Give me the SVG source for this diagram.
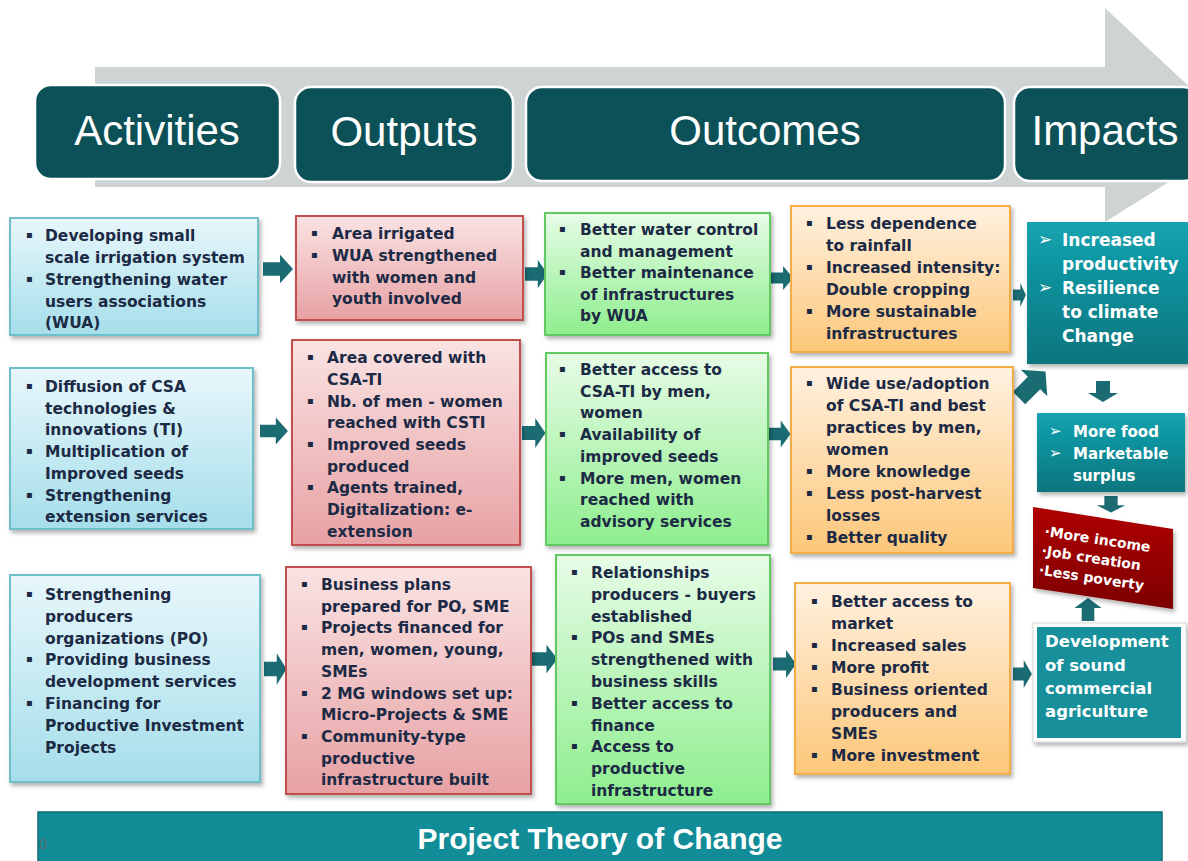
<svg xmlns="http://www.w3.org/2000/svg" xmlns:xlink="http://www.w3.org/1999/xlink" width="1188" height="861" viewBox="0 0 1188 861">
<defs>
<linearGradient id="gBlue" x1="0" y1="0" x2="0" y2="1"><stop offset="0" stop-color="#e8f7fb"/><stop offset="1" stop-color="#a5deea"/></linearGradient>
<linearGradient id="gPink" x1="0" y1="0" x2="0" y2="1"><stop offset="0" stop-color="#fae3e3"/><stop offset="1" stop-color="#e7a1a4"/></linearGradient>
<linearGradient id="gGreen" x1="0" y1="0" x2="0" y2="1"><stop offset="0" stop-color="#e7fce7"/><stop offset="1" stop-color="#8eee8e"/></linearGradient>
<linearGradient id="gOrange" x1="0" y1="0" x2="0" y2="1"><stop offset="0" stop-color="#fff1e0"/><stop offset="1" stop-color="#fcc779"/></linearGradient>
<linearGradient id="gTeal" x1="0" y1="0" x2="0" y2="1"><stop offset="0" stop-color="#13a3b0"/><stop offset="1" stop-color="#0b757e"/></linearGradient>
<linearGradient id="gRed" x1="0" y1="0" x2="0" y2="1"><stop offset="0" stop-color="#b00000"/><stop offset="1" stop-color="#7c0000"/></linearGradient>
<filter id="sh" x="-10%" y="-10%" width="125%" height="125%"><feDropShadow dx="2" dy="3" stdDeviation="2" flood-color="#000" flood-opacity="0.3"/></filter>
<path id="ra" d="M0,-7 H17 V-15 L30,0 L17,15 V7 H0 Z"/>
<style>
.hdr{fill:#0c5157;stroke:#fff;stroke-width:2.5}
.ht{font-family:"Liberation Sans",Arial,sans-serif;font-size:42px;fill:#fff;text-anchor:middle}
.t{font-family:"DejaVu Sans",Verdana,sans-serif;font-weight:bold;font-size:15.5px;fill:#1c2a45}
.b{font-family:"DejaVu Sans",sans-serif;font-size:10px;fill:#1c2a45}
.w{font-family:"DejaVu Sans",Verdana,sans-serif;font-weight:bold;fill:#fff}
.blue{fill:url(#gBlue);stroke:#6fc0cb;stroke-width:2}
.pink{fill:url(#gPink);stroke:#c0504d;stroke-width:2}
.green{fill:url(#gGreen);stroke:#62c862;stroke-width:2}
.orange{fill:url(#gOrange);stroke:#f2ad45;stroke-width:2}
.arr{fill:#1b6b72}
</style>
</defs>
<rect width="1188" height="861" fill="#fff"/>

<g id="timeline-arrow">
<path d="M95,67 H1105 V8 L1242,136 L1105,222 V187 H95 Z" fill="#ced3d3"/>
</g>

<g id="hdr-activities"><rect class="hdr" x="35" y="85" width="245" height="94" rx="16"/><text class="ht" x="157" y="145">Activities</text></g>
<g id="hdr-outputs"><rect class="hdr" x="295" y="87" width="218" height="95" rx="16"/><text class="ht" x="404" y="146">Outputs</text></g>
<g id="hdr-outcomes"><rect class="hdr" x="526" y="87" width="479" height="94" rx="16"/><text class="ht" x="765" y="145">Outcomes</text></g>
<g id="hdr-impacts"><rect class="hdr" x="1014" y="87" width="185" height="94" rx="16"/><text class="ht" x="1105" y="145">Impacts</text></g>

<g id="connectors" class="arr">
<use xlink:href="#ra" transform="translate(263,269) scale(1,0.95)"/>
<use xlink:href="#ra" transform="translate(260,431) scale(0.93,0.9)"/>
<use xlink:href="#ra" transform="translate(264,669) scale(0.75,1.05)"/>
<use xlink:href="#ra" transform="translate(525,274) scale(0.75,0.95)"/>
<use xlink:href="#ra" transform="translate(522,433) scale(0.78,1)"/>
<use xlink:href="#ra" transform="translate(532,659) scale(0.85,0.95)"/>
<use xlink:href="#ra" transform="translate(770,278) scale(0.77,0.8)"/>
<use xlink:href="#ra" transform="translate(768,434) scale(0.75,0.9)"/>
<use xlink:href="#ra" transform="translate(773,664) scale(0.77,0.93)"/>
<use xlink:href="#ra" transform="translate(1013,295) scale(0.43,0.8)"/>
<use xlink:href="#ra" transform="translate(1013,674) scale(0.63,0.93)"/>
<use xlink:href="#ra" transform="translate(1019,398) rotate(-45) scale(1.25)"/>
<use xlink:href="#ra" transform="translate(1103,381) rotate(90) scale(0.7,1)"/>
<use xlink:href="#ra" transform="translate(1111,496) rotate(90) scale(0.55,0.95)"/>
<use xlink:href="#ra" transform="translate(1088,621) rotate(-90) scale(0.77,0.9)"/>
</g>

<g id="act-1">
<rect class="blue" x="10" y="218" width="248" height="117" filter="url(#sh)"/>
<text class="b"><tspan x="26" y="238">▪</tspan><tspan x="26" y="282">▪</tspan></text>
<text class="t"><tspan x="45" y="241">Developing small</tspan><tspan x="45" y="263">scale irrigation system</tspan><tspan x="45" y="285">Strengthening water</tspan><tspan x="45" y="306.5">users associations</tspan><tspan x="45" y="328">(WUA)</tspan></text>
</g>
<g id="act-2">
<rect class="blue" x="10" y="368" width="243" height="161" filter="url(#sh)"/>
<text class="b"><tspan x="26" y="389">▪</tspan><tspan x="26" y="454">▪</tspan><tspan x="26" y="497.5">▪</tspan></text>
<text class="t"><tspan x="45" y="392">Diffusion of CSA</tspan><tspan x="45" y="413.5">technologies &amp;</tspan><tspan x="45" y="435">innovations (TI)</tspan><tspan x="45" y="457">Multiplication of</tspan><tspan x="45" y="479">Improved seeds</tspan><tspan x="45" y="500.5">Strengthening</tspan><tspan x="45" y="522">extension services</tspan></text>
</g>
<g id="act-3">
<rect class="blue" x="10" y="575" width="250" height="207" filter="url(#sh)"/>
<text class="b"><tspan x="26" y="597">▪</tspan><tspan x="26" y="662.4">▪</tspan><tspan x="26" y="706">▪</tspan></text>
<text class="t"><tspan x="45" y="600">Strengthening</tspan><tspan x="45" y="621.8">producers</tspan><tspan x="45" y="643.6">organizations (PO)</tspan><tspan x="45" y="665.4">Providing business</tspan><tspan x="45" y="687.2">development services</tspan><tspan x="45" y="709">Financing for</tspan><tspan x="45" y="730.8">Productive Investment</tspan><tspan x="45" y="752.6">Projects</tspan></text>
</g>

<g id="out-1">
<rect class="pink" x="296" y="216" width="227" height="104" filter="url(#sh)"/>
<text class="b"><tspan x="311" y="236">▪</tspan><tspan x="311" y="258">▪</tspan></text>
<text class="t"><tspan x="332" y="239">Area irrigated</tspan><tspan x="332" y="261">WUA strengthened</tspan><tspan x="332" y="282.5">with women and</tspan><tspan x="332" y="304">youth involved</tspan></text>
</g>
<g id="out-2">
<rect class="pink" x="292" y="340" width="228" height="205" filter="url(#sh)"/>
<text class="b"><tspan x="307" y="360">▪</tspan><tspan x="307" y="403.5">▪</tspan><tspan x="307" y="447">▪</tspan><tspan x="307" y="490">▪</tspan></text>
<text class="t"><tspan x="327" y="363">Area covered with</tspan><tspan x="327" y="385">CSA-TI</tspan><tspan x="327" y="406.5">Nb. of men - women</tspan><tspan x="327" y="428">reached with CSTI</tspan><tspan x="327" y="450">Improved seeds</tspan><tspan x="327" y="471.5">produced</tspan><tspan x="327" y="493">Agents trained,</tspan><tspan x="327" y="515">Digitalization: e-</tspan><tspan x="327" y="536.5">extension</tspan></text>
</g>
<g id="out-3">
<rect class="pink" x="286" y="567" width="245" height="227" filter="url(#sh)"/>
<text class="b"><tspan x="301" y="587">▪</tspan><tspan x="301" y="630.4">▪</tspan><tspan x="301" y="695.5">▪</tspan><tspan x="301" y="738.9">▪</tspan></text>
<text class="t"><tspan x="321" y="590">Business plans</tspan><tspan x="321" y="611.7">prepared for PO, SME</tspan><tspan x="321" y="633.4">Projects financed for</tspan><tspan x="321" y="655.1">men, women, young,</tspan><tspan x="321" y="676.8">SMEs</tspan><tspan x="321" y="698.5">2 MG windows set up:</tspan><tspan x="321" y="720.2">Micro-Projects &amp; SME</tspan><tspan x="321" y="741.9">Community-type</tspan><tspan x="321" y="763.6">productive</tspan><tspan x="321" y="785.3">infrastructure built</tspan></text>
</g>

<g id="outc-1">
<rect class="green" x="545" y="213" width="225" height="122" filter="url(#sh)"/>
<text class="b"><tspan x="559" y="232">▪</tspan><tspan x="559" y="275">▪</tspan></text>
<text class="t"><tspan x="580" y="235">Better water control</tspan><tspan x="580" y="256.5">and management</tspan><tspan x="580" y="278">Better maintenance</tspan><tspan x="580" y="299.5">of infrastructures</tspan><tspan x="580" y="321">by WUA</tspan></text>
</g>
<g id="outc-2">
<rect class="green" x="546" y="353" width="222" height="192" filter="url(#sh)"/>
<text class="b"><tspan x="559" y="372">▪</tspan><tspan x="559" y="437.1">▪</tspan><tspan x="559" y="480.5">▪</tspan></text>
<text class="t"><tspan x="580" y="375">Better access to</tspan><tspan x="580" y="396.7">CSA-TI by men,</tspan><tspan x="580" y="418.4">women</tspan><tspan x="580" y="440.1">Availability of</tspan><tspan x="580" y="461.8">improved seeds</tspan><tspan x="580" y="483.5">More men, women</tspan><tspan x="580" y="505.2">reached with</tspan><tspan x="580" y="526.9">advisory services</tspan></text>
</g>
<g id="outc-3">
<rect class="green" x="556" y="555" width="214" height="249" filter="url(#sh)"/>
<text class="b"><tspan x="571" y="575">▪</tspan><tspan x="571" y="640.4">▪</tspan><tspan x="571" y="705.8">▪</tspan><tspan x="571" y="749.4">▪</tspan></text>
<text class="t"><tspan x="591" y="578">Relationships</tspan><tspan x="591" y="599.8">producers - buyers</tspan><tspan x="591" y="621.6">established</tspan><tspan x="591" y="643.4">POs and SMEs</tspan><tspan x="591" y="665.2">strengthened with</tspan><tspan x="591" y="687">business skills</tspan><tspan x="591" y="708.8">Better access to</tspan><tspan x="591" y="730.6">finance</tspan><tspan x="591" y="752.4">Access to</tspan><tspan x="591" y="774.2">productive</tspan><tspan x="591" y="796">infrastructure</tspan></text>
</g>

<g id="res-1">
<rect class="orange" x="791" y="206" width="219" height="146" filter="url(#sh)"/>
<text class="b"><tspan x="806" y="225.5">▪</tspan><tspan x="806" y="269.5">▪</tspan><tspan x="806" y="313.5">▪</tspan></text>
<text class="t"><tspan x="826" y="228.5">Less dependence</tspan><tspan x="826" y="250.5">to rainfall</tspan><tspan x="826" y="272.5">Increased intensity:</tspan><tspan x="826" y="294.5">Double cropping</tspan><tspan x="826" y="316.5">More sustainable</tspan><tspan x="826" y="338.5">infrastructures</tspan></text>
</g>
<g id="res-2">
<rect class="orange" x="791" y="367" width="222" height="186" filter="url(#sh)"/>
<text class="b"><tspan x="806" y="386">▪</tspan><tspan x="806" y="474">▪</tspan><tspan x="806" y="496">▪</tspan><tspan x="806" y="540">▪</tspan></text>
<text class="t"><tspan x="826" y="389">Wide use/adoption</tspan><tspan x="826" y="411">of CSA-TI and best</tspan><tspan x="826" y="433">practices by men,</tspan><tspan x="826" y="455">women</tspan><tspan x="826" y="477">More knowledge</tspan><tspan x="826" y="499">Less post-harvest</tspan><tspan x="826" y="521">losses</tspan><tspan x="826" y="543">Better quality</tspan></text>
</g>
<g id="res-3">
<rect class="orange" x="795" y="583" width="215" height="191" filter="url(#sh)"/>
<text class="b"><tspan x="811" y="603.5">▪</tspan><tspan x="811" y="647.5">▪</tspan><tspan x="811" y="669.5">▪</tspan><tspan x="811" y="691.5">▪</tspan><tspan x="811" y="757.5">▪</tspan></text>
<text class="t"><tspan x="831" y="606.5">Better access to</tspan><tspan x="831" y="628.5">market</tspan><tspan x="831" y="650.5">Increased sales</tspan><tspan x="831" y="672.5">More profit</tspan><tspan x="831" y="694.5">Business oriented</tspan><tspan x="831" y="716.5">producers and</tspan><tspan x="831" y="738.5">SMEs</tspan><tspan x="831" y="760.5">More investment</tspan></text>
</g>

<g id="imp-1">
<rect x="1027" y="222" width="165" height="142" fill="url(#gTeal)" filter="url(#sh)"/>
<text class="w" font-size="17"><tspan x="1038" y="245">➢</tspan><tspan x="1038" y="293">➢</tspan></text>
<text class="w" font-size="17"><tspan x="1062" y="246">Increased</tspan><tspan x="1062" y="270">productivity</tspan><tspan x="1062" y="294">Resilience</tspan><tspan x="1062" y="318">to climate</tspan><tspan x="1062" y="342">Change</tspan></text>
</g>
<g id="imp-2">
<rect x="1037" y="413" width="148" height="79" fill="url(#gTeal)" filter="url(#sh)"/>
<text class="w" font-size="15"><tspan x="1049" y="436">➢</tspan><tspan x="1049" y="458">➢</tspan></text>
<text class="w" font-size="15"><tspan x="1073" y="437">More food</tspan><tspan x="1073" y="459">Marketable</tspan><tspan x="1073" y="481">surplus</tspan></text>
</g>
<g id="imp-3">
<polygon points="1033,507 1173,529 1173,609 1033,588" fill="url(#gRed)" filter="url(#sh)"/>
<g transform="translate(1044,536) rotate(8.6)">
<text class="w" font-size="14"><tspan x="0" y="0">·More income</tspan><tspan x="0" y="19.5">·Job creation</tspan><tspan x="0" y="39">·Less poverty</tspan></text>
</g>
</g>
<g id="imp-4">
<rect x="1033" y="623" width="153" height="119" fill="#fff" stroke="#d6d6d6" stroke-width="1" filter="url(#sh)"/>
<rect x="1037" y="627" width="144" height="111" fill="#17909c"/>
<text class="w" font-size="16.5"><tspan x="1045" y="647">Development</tspan><tspan x="1045" y="670.5">of sound</tspan><tspan x="1045" y="694">commercial</tspan><tspan x="1045" y="717">agriculture</tspan></text>
</g>

<g id="title-bar">
<rect x="38" y="812" width="1124" height="60" fill="#128c97" stroke="#0c6a73" stroke-width="1.5"/>
<text x="39" y="849" font-family="Liberation Sans,Arial,sans-serif" font-size="14" fill="#5a6a6c">0</text>
<text x="600" y="849" font-family="Liberation Sans,Arial,sans-serif" font-weight="bold" font-size="30" fill="#fff" text-anchor="middle">Project Theory of Change</text>
</g>
</svg>
